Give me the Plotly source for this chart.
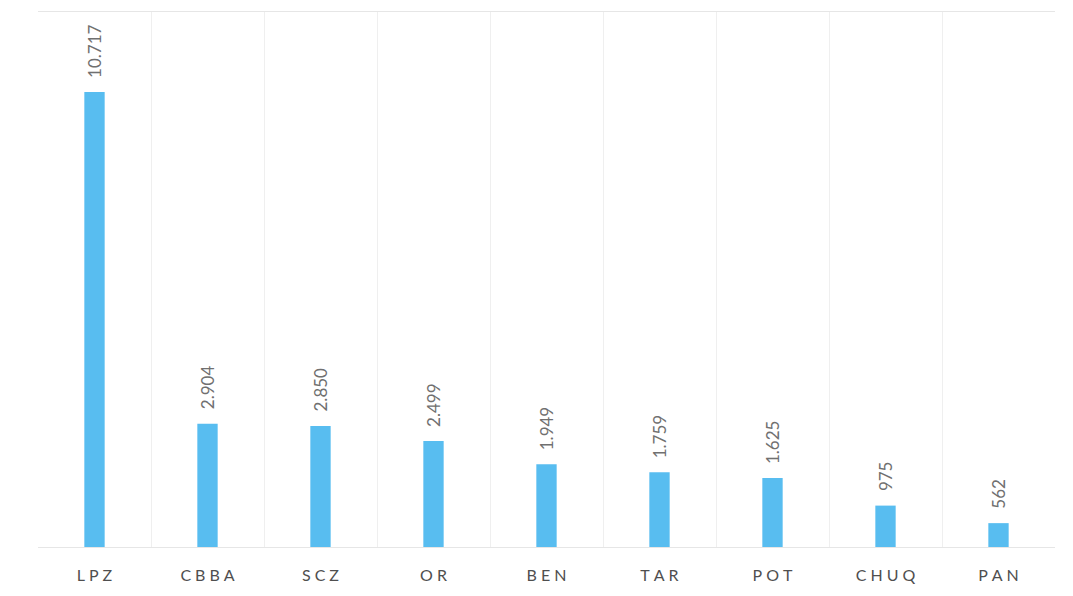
import plotly.graph_objects as go

categories = ["LPZ", "CBBA", "SCZ", "OR", "BEN", "TAR", "POT", "CHUQ", "PAN"]
values = [10717, 2904, 2850, 2499, 1949, 1759, 1625, 975, 562]

def fmt(v):
    return f"{v:,}".replace(",", ".")

def spaced(s):
    return "\u2005".join(list(s))

fig = go.Figure()
fig.add_trace(go.Bar(
    x=categories, y=values,
    marker=dict(color="#58bdf0", line=dict(width=0)),
    hoverinfo="skip",
))

for c, v in zip(categories, values):
    fig.add_annotation(
        x=c, y=v, text=fmt(v), textangle=-90, showarrow=False,
        yanchor="bottom", yshift=12,
        font=dict(family="Lato, Open Sans, sans-serif", size=17, color="#707070"),
    )

fig.update_layout(
    width=1065, height=588,
    margin=dict(l=30, r=18, t=4, b=49),
    paper_bgcolor="white", plot_bgcolor="white",
    bargap=0.82, showlegend=False,
    xaxis=dict(
        type="category", tickson="boundaries", showgrid=True, gridcolor="#efefef",
        gridwidth=1, showline=True, linecolor="#e6e6e6", mirror=True, ticks="",
        tickvals=categories, ticktext=[spaced(c) for c in categories],
        tickfont=dict(family="Lato, Open Sans, sans-serif", size=16, color="#4f4f4f"),
        ticklabelstandoff=14,
    ),
    yaxis=dict(range=[0, 12600], showgrid=False, showticklabels=False,
               zeroline=False, showline=False),
)

fig.write_html("out.html")
